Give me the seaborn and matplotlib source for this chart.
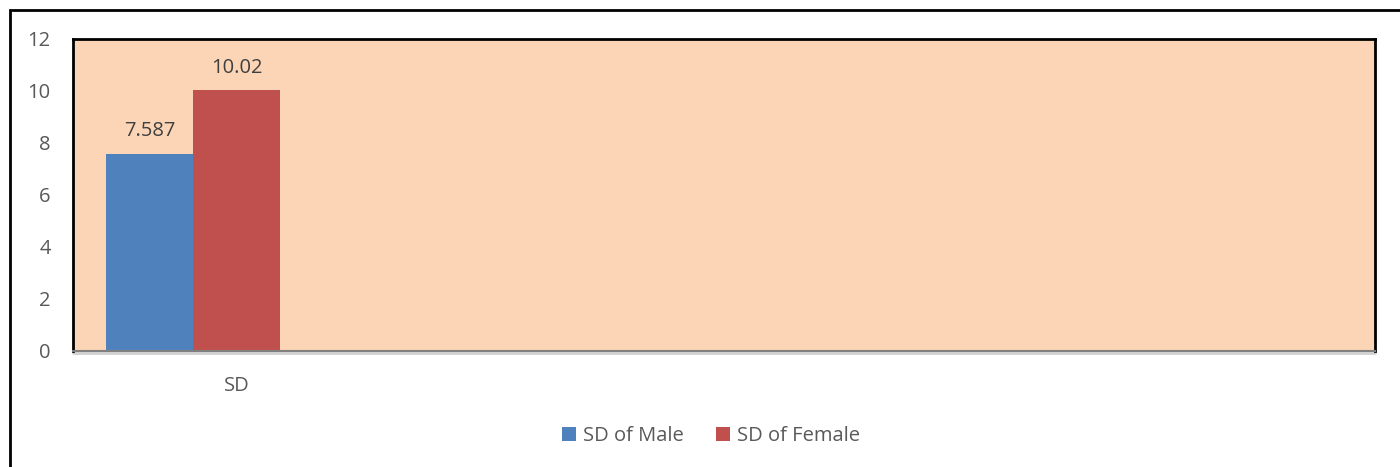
import pandas as pd
import matplotlib.pyplot as plt
import seaborn as sns

categories = ["SD"]
series = ["SD of Male", "SD of Female"]
values = [7.587, 10.02]
labels = ["7.587", "10.02"]
colors = ["#4F81BD", "#C0504D"]

df = pd.DataFrame({"cat": categories * len(series), "series": series, "value": values})

sns.set_theme(style="white")
plt.rcParams["font.family"] = ["Open Sans", "DejaVu Sans"]
text_col = "#595959"
fs = 14.5

fig = plt.figure(figsize=(14, 4.67), dpi=100)
ax = fig.add_axes([73 / 1400, 1 - 351 / 467, (1375 - 73) / 1400, (351 - 39) / 467])

sns.barplot(data=df, x="cat", y="value", hue="series", palette=colors,
            width=0.8, saturation=1, linewidth=0, ax=ax)
ax.set_facecolor("#FBD5B5")

for cont, lab in zip(ax.containers, labels):
    ax.bar_label(cont, labels=[lab], padding=9, fontsize=fs, color="#404040")

ax.set_xlim(-0.552, 5.434)
ax.set_ylim(0, 12)
ax.set_yticks(range(0, 13, 2))
ax.set_xticks([0.2])
ax.set_xticklabels(categories)
ax.tick_params(axis="both", colors=text_col, labelsize=fs, length=0)
ax.tick_params(axis="y", pad=16)
ax.tick_params(axis="x", pad=18)
ax.set_xlabel("")
ax.set_ylabel("")

for side in ["top", "right", "left"]:
    ax.spines[side].set_color("black")
    ax.spines[side].set_linewidth(2)
ax.spines["bottom"].set_color("#808080")
ax.spines["bottom"].set_linewidth(1.5)
ax.axhline(-0.08, color="#D0D0D0", lw=2, clip_on=False)

ax.legend(loc="center", bbox_to_anchor=(0.5 + 11 / 1400, 1 - 436 / 467), bbox_transform=fig.transFigure,
          ncol=2, frameon=False, fontsize=fs, handlelength=0.7, handleheight=0.7,
          handletextpad=0.35, columnspacing=1.6, labelcolor=text_col)

fig.patches.append(plt.Rectangle((10 / 1400, -0.1), 1.2, 1 - 10 / 467 + 0.1, transform=fig.transFigure,
                                 fill=False, edgecolor="black", lw=2))

fig.savefig("out.png", dpi=100, facecolor="white")
